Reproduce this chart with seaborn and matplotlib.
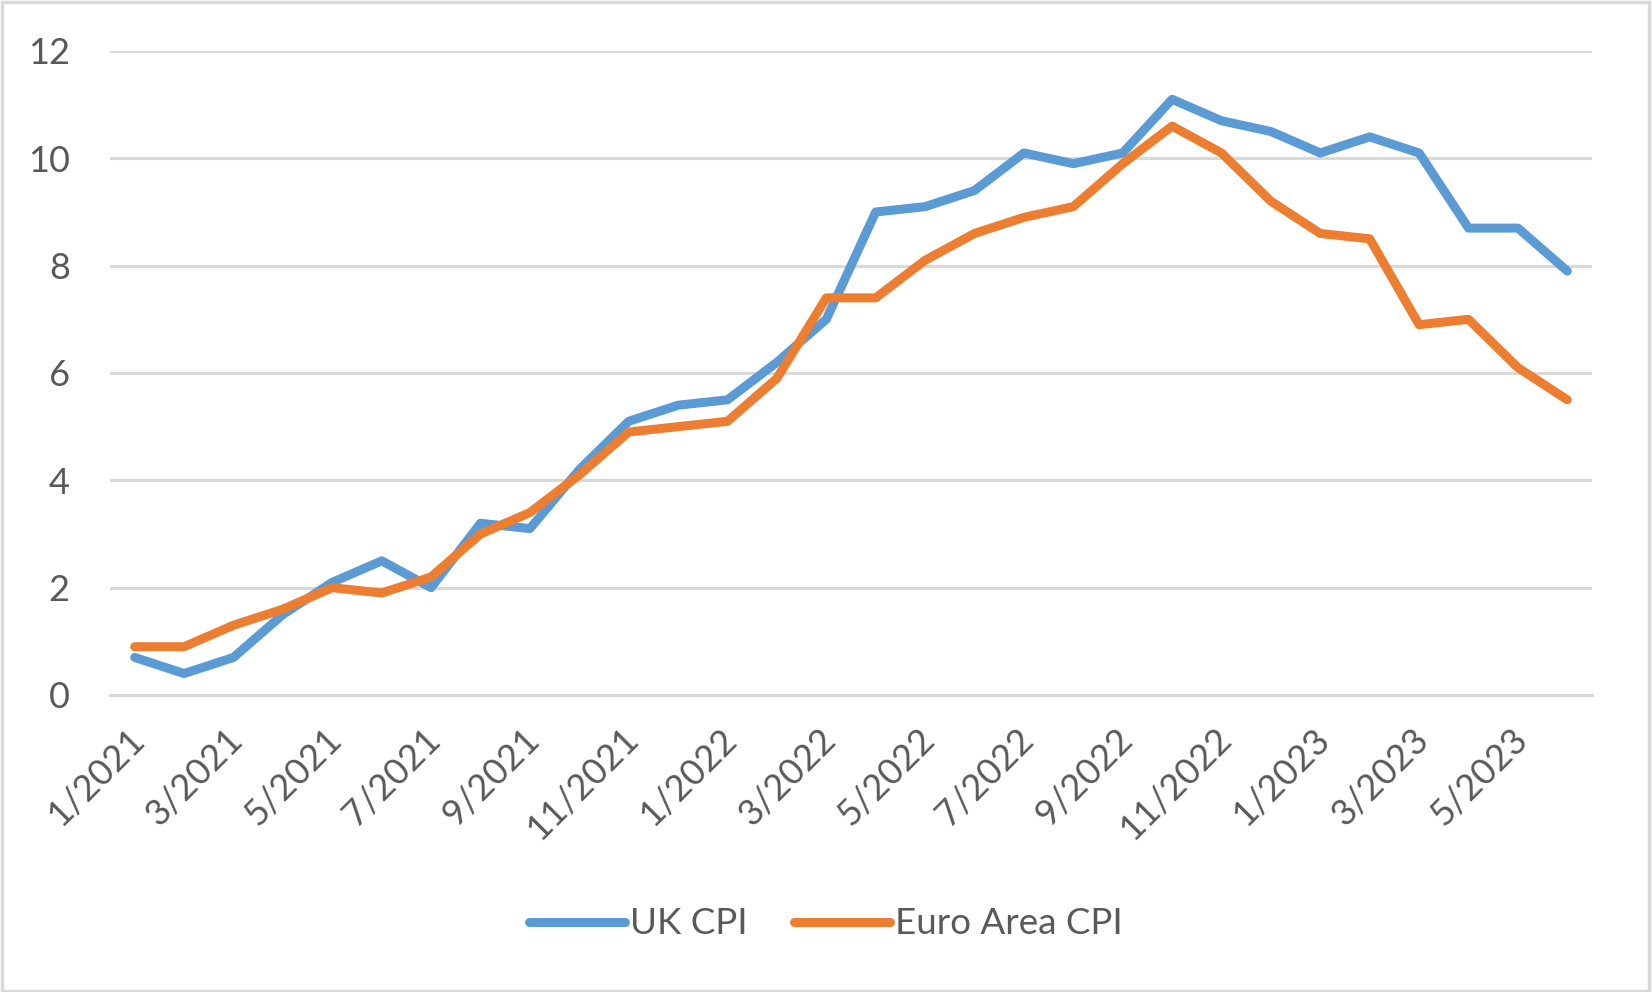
import matplotlib
matplotlib.use("Agg")
import matplotlib.pyplot as plt
import seaborn as sns
import pandas as pd
from matplotlib.patches import Rectangle
from matplotlib.lines import Line2D
from matplotlib.transforms import ScaledTranslation

months = ["1/2021", "2/2021", "3/2021", "4/2021", "5/2021", "6/2021", "7/2021", "8/2021",
          "9/2021", "10/2021", "11/2021", "12/2021", "1/2022", "2/2022", "3/2022", "4/2022",
          "5/2022", "6/2022", "7/2022", "8/2022", "9/2022", "10/2022", "11/2022", "12/2022",
          "1/2023", "2/2023", "3/2023", "4/2023", "5/2023", "6/2023"]
uk_cpi = [0.7, 0.4, 0.7, 1.5, 2.1, 2.5, 2.0, 3.2, 3.1, 4.2, 5.1, 5.4, 5.5, 6.2, 7.0, 9.0,
          9.1, 9.4, 10.1, 9.9, 10.1, 11.1, 10.7, 10.5, 10.1, 10.4, 10.1, 8.7, 8.7, 7.9]
euro_cpi = [0.9, 0.9, 1.3, 1.6, 2.0, 1.9, 2.2, 3.0, 3.4, 4.1, 4.9, 5.0, 5.1, 5.9, 7.4, 7.4,
            8.1, 8.6, 8.9, 9.1, 9.9, 10.6, 10.1, 9.2, 8.6, 8.5, 6.9, 7.0, 6.1, 5.5]
y_ticks = [0, 2, 4, 6, 8, 10, 12]

sns.set_theme(style="white")
plt.rcParams["font.family"] = ["Lato", "DejaVu Sans"]

n = len(months)
df = pd.DataFrame({
    "idx": list(range(n)) * 2,
    "value": uk_cpi + euro_cpi,
    "series": ["UK CPI"] * n + ["Euro Area CPI"] * n,
})

fig = plt.figure(figsize=(16.52, 9.92), dpi=100)
ax = fig.add_axes([110 / 1652, 1 - 695 / 992, (1592 - 110) / 1652, (695 - 51) / 992])

palette = {"UK CPI": "#5B9BD5", "Euro Area CPI": "#ED7D31"}
sns.lineplot(data=df, x="idx", y="value", hue="series", palette=palette, ax=ax,
             linewidth=6.5, legend=False, solid_capstyle="round", solid_joinstyle="round")

ax.set_xlim(-0.5, n - 0.5)
ax.set_ylim(0, 12)
ax.set_yticks(y_ticks)
ax.set_yticklabels([str(v) for v in y_ticks])
ax.yaxis.grid(True, color="#D9D9D9", linewidth=2.2)
ax.set_axisbelow(True)

# tick marks at category boundaries every 2 months
bounds = [i - 0.5 for i in range(0, n + 1, 2)]
ax.set_xticks(bounds)
ax.set_xticklabels([""] * len(bounds))
ax.tick_params(axis="x", which="major", length=8.6, width=2.2, color="#D9D9D9", direction="out")
# labels at category centers
centers = list(range(0, n, 2))
ax.set_xticks(centers, minor=True)
ax.set_xticklabels([months[i] for i in centers], minor=True, rotation=45, ha="right",
                   va="center", rotation_mode="anchor")
ax.tick_params(axis="x", which="minor", length=0, pad=28, labelsize=26, labelcolor="#595959")
ax.tick_params(axis="y", length=0, pad=29, labelsize=26, labelcolor="#595959")
for lbl in ax.get_xticklabels(minor=True):
    lbl.set_transform(lbl.get_transform() + ScaledTranslation(4 / 100, 0, fig.dpi_scale_trans))

ax.set_xlabel("")
ax.set_ylabel("")
for s in ["top", "right", "left"]:
    ax.spines[s].set_visible(False)
ax.spines["bottom"].set_color("#D9D9D9")
ax.spines["bottom"].set_linewidth(2.2)

handles = [Line2D([], [], color=palette[k], linewidth=6.5, solid_capstyle="round") for k in ["UK CPI", "Euro Area CPI"]]
leg = fig.legend(handles, ["UK CPI", "Euro Area CPI"], loc="center", bbox_to_anchor=(0.5, 1 - 924 / 992),
                 ncol=2, frameon=False, fontsize=26.5, handlelength=2.6, handletextpad=0.15,
                 columnspacing=1.25, labelcolor="#595959")

fig.patches.append(Rectangle((0.001, 0.001), 0.997, 0.997, transform=fig.transFigure,
                             fill=False, edgecolor="#D9D9D9", linewidth=2.5))

fig.savefig("out.png", dpi=100)
